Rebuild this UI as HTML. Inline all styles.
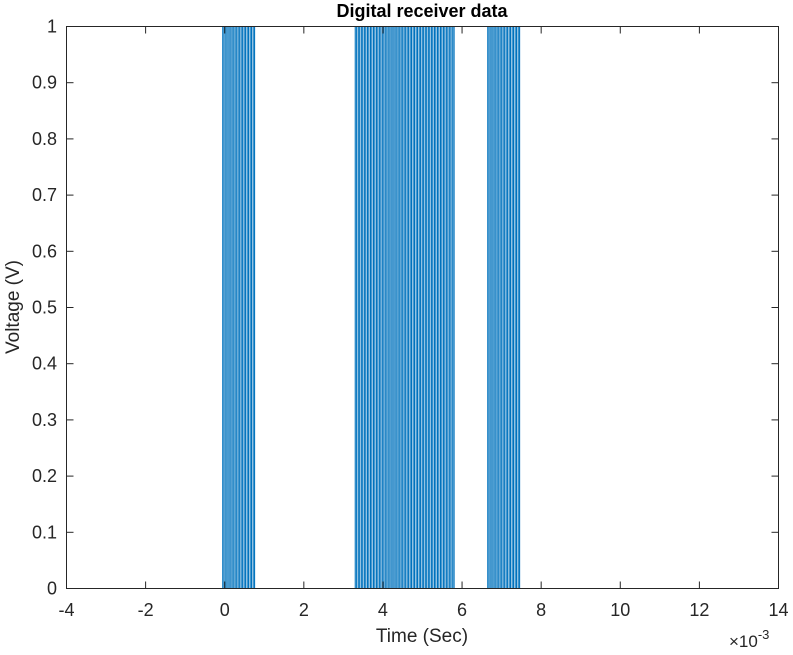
<!DOCTYPE html>
<html><head><meta charset="utf-8"><style>
body{margin:0;background:#fff;}
svg text{font-family:"Liberation Sans",sans-serif;fill:#262626;}
</style></head><body>
<svg id="c" width="793" height="650" xmlns="http://www.w3.org/2000/svg">
<rect x="0" y="0" width="793" height="650" fill="#fff"/>
<g id="marks"></g>
<rect x="66.5" y="26.5" width="712" height="562" fill="none" stroke="#262626" stroke-width="1"/>
<g id="axes"></g>
<text x="422" y="17" text-anchor="middle" font-size="18" font-weight="bold" style="fill:#000">Digital receiver data</text>
<text x="422" y="642" text-anchor="middle" font-size="19">Time (Sec)</text>
<text transform="translate(19,307) rotate(-90)" text-anchor="middle" font-size="19">Voltage (V)</text>
<text x="729" y="647" font-size="17">×10<tspan dy="-8" font-size="13">-3</tspan></text>
</svg>
<script>
const xTicks=[-4,-2,0,2,4,6,8,10,12,14];
const yTicks=[0,0.1,0.2,0.3,0.4,0.5,0.6,0.7,0.8,0.9,1];
const signalStart=-3.2, signalEnd=12.9;
const burstStart=[-0.05,3.3,6.65];
const burstEnd=[0.78,5.82,7.47];
const pulsePeriod=[0.077,0.077,0.077];
const pulseHigh=[1,1,1];
const X=v=>66.5+(v+4)/18*712;
const Y=v=>588.5-v*562;
const ns="http://www.w3.org/2000/svg";
const ax=document.getElementById('axes'), mk=document.getElementById('marks');
xTicks.forEach(t=>{
 const l=document.createElementNS(ns,'line');
 l.setAttribute('x1',X(t));l.setAttribute('x2',X(t));l.setAttribute('y1',588.5);l.setAttribute('y2',581.5);l.setAttribute('stroke','#262626');
 
 
 ax.appendChild(l);
 const l2=l.cloneNode();l2.setAttribute('y1',26.5);l2.setAttribute('y2',33.5);ax.appendChild(l2);
 const tx=document.createElementNS(ns,'text');
 tx.setAttribute('x',X(t));tx.setAttribute('y',616);tx.setAttribute('text-anchor','middle');tx.setAttribute('font-size','18');tx.textContent=t;
 
 
 ax.appendChild(tx);
});
yTicks.forEach(t=>{
 const l=document.createElementNS(ns,'line');
 l.setAttribute('x1',66.5);l.setAttribute('x2',73.5);l.setAttribute('y1',Y(t));l.setAttribute('y2',Y(t));l.setAttribute('stroke','#262626');
 
 
 ax.appendChild(l);
 const l2=l.cloneNode();l2.setAttribute('x1',778.5);l2.setAttribute('x2',771.5);ax.appendChild(l2);
 const tx=document.createElementNS(ns,'text');
 tx.setAttribute('x',57);tx.setAttribute('y',Y(t)+6);tx.setAttribute('text-anchor','end');tx.setAttribute('font-size','18');tx.textContent=t;
 
 
 ax.appendChild(tx);
});
let d='M'+X(signalStart)+','+Y(0);
burstStart.forEach((s,i)=>{
 for(let t=s;t<burstEnd[i]-1e-9;t+=pulsePeriod[i]){
  const w=pulsePeriod[i]*0.45;
  d+=' L'+X(t)+','+Y(0)+' L'+X(t)+','+Y(pulseHigh[i])+' L'+X(t+w)+','+Y(pulseHigh[i])+' L'+X(t+w)+','+Y(0);
 }
});
d+=' L'+X(signalEnd)+','+Y(0);
const p=document.createElementNS(ns,'path');
p.setAttribute('d',d);p.setAttribute('fill','none');p.setAttribute('stroke','#0072BD');p.setAttribute('stroke-width','1.1');


mk.appendChild(p);
</script>
</body></html>
